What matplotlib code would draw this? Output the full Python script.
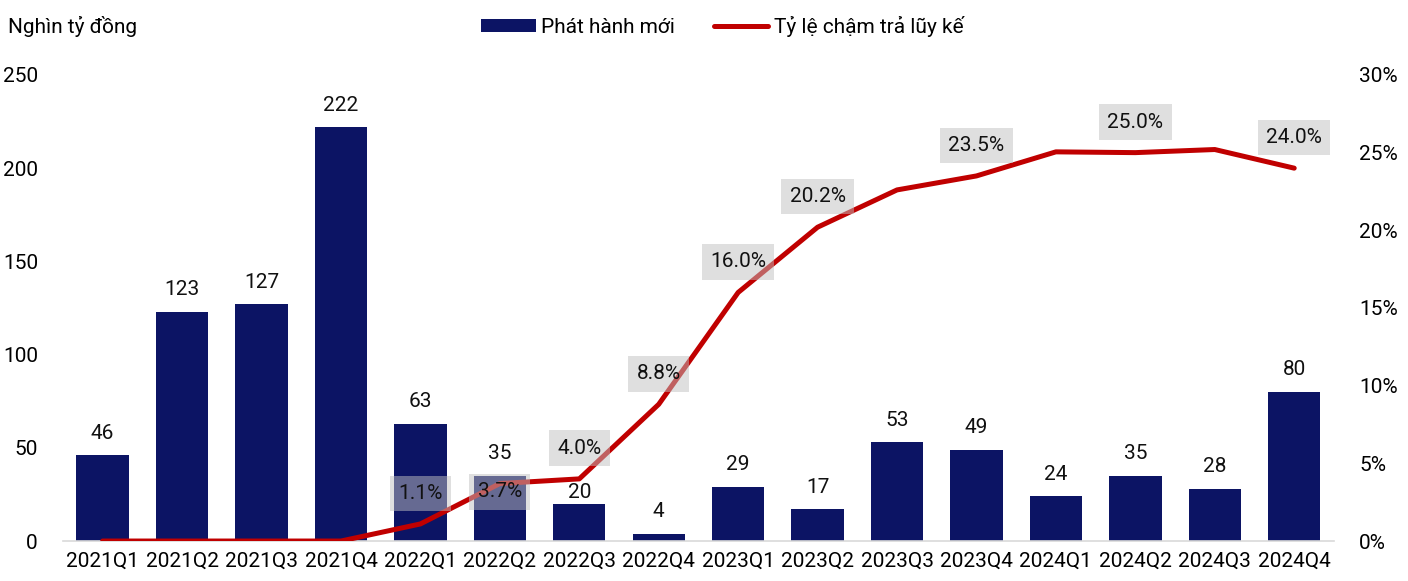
import matplotlib.pyplot as plt
from matplotlib.ticker import FuncFormatter

plt.rcParams['font.family'] = ['Roboto', 'DejaVu Sans']

# dữ liệu
quarters = ["2021Q1", "2021Q2", "2021Q3", "2021Q4",
            "2022Q1", "2022Q2", "2022Q3", "2022Q4",
            "2023Q1", "2023Q2", "2023Q3", "2023Q4",
            "2024Q1", "2024Q2", "2024Q3", "2024Q4"]
issuance = [46, 123, 127, 222, 63, 35, 20, 4, 29, 17, 53, 49, 24, 35, 28, 80]
default_rate = [0.0, 0.0, 0.0, 0.0, 1.1, 3.7, 4.0, 8.8,
                16.0, 20.2, 22.6, 23.5, 25.05, 25.0, 25.2, 24.0]
# các điểm có nhãn
labeled = {4: "1.1%", 5: "3.7%", 6: "4.0%", 7: "8.8%", 8: "16.0%",
           9: "20.2%", 11: "23.5%", 13: "25.0%", 15: "24.0%"}

NAVY = "#0c1464"
RED = "#c00000"
FS = 15

fig = plt.figure(figsize=(14.08, 5.81), dpi=100)
ax = fig.add_axes([0.0447, 0.0688, 0.9027, 0.8022])
ax2 = ax.twinx()

x = range(len(quarters))
bars = ax.bar(x, issuance, width=0.66, color=NAVY, label="Phát hành mới", zorder=2)
bar_offsets = {6: 1}  # nhãn "20" bị đẩy xuống
for i, v in enumerate(issuance):
    ax.annotate(str(v), (i, v), xytext=(0, bar_offsets.get(i, 9)), textcoords="offset points",
                ha="center", va="bottom", fontsize=FS, color="#111111")

ax.set_xlim(-0.5, len(quarters) - 0.5)
ax.set_ylim(0, 250)
ax.set_yticks(range(0, 251, 50))
ax.set_xticks(list(x))
ax.set_xticklabels(quarters)
ax.tick_params(axis="y", length=0, pad=18, labelsize=FS)
ax.tick_params(axis="x", length=0, pad=8, labelsize=FS)
for s in ["top", "right", "left"]:
    ax.spines[s].set_visible(False)
ax.spines["bottom"].set_color("#d9d9d9")
ax.spines["bottom"].set_linewidth(1.2)

line, = ax2.plot(x, default_rate, color=RED, lw=3.6, solid_capstyle="round",
                 label="Tỷ lệ chậm trả lũy kế", zorder=3)
ax2.set_ylim(0, 30)
ax2.set_yticks(range(0, 31, 5))
ax2.yaxis.set_major_formatter(FuncFormatter(lambda v, p: f"{v:.0f}%"))
ax2.tick_params(axis="y", length=0, pad=18, labelsize=FS)
for s in ax2.spines.values():
    s.set_visible(False)

# vị trí nhãn (điểm)
label_offsets = {5: -6}
for i, txt in labeled.items():
    dy = label_offsets.get(i, 22)
    ax2.annotate(txt, (i, default_rate[i]), xytext=(0, dy), textcoords="offset points",
                 ha="center", va="center", fontsize=FS, color="#111111", zorder=5,
                 bbox=dict(boxstyle="square,pad=0.4", fc="#c0c0c0", ec="none", alpha=0.5))

fig.text(0.006, 0.955, "Nghìn tỷ đồng", fontsize=FS, ha="left", va="center")
fig.legend(handles=[bars, line], loc="upper center", bbox_to_anchor=(0.513, 1.005),
           ncol=2, frameon=False, fontsize=FS, handlelength=2.6, handleheight=0.6,
           handletextpad=0.25, columnspacing=1.9)

fig.savefig("out.png", dpi=100)
